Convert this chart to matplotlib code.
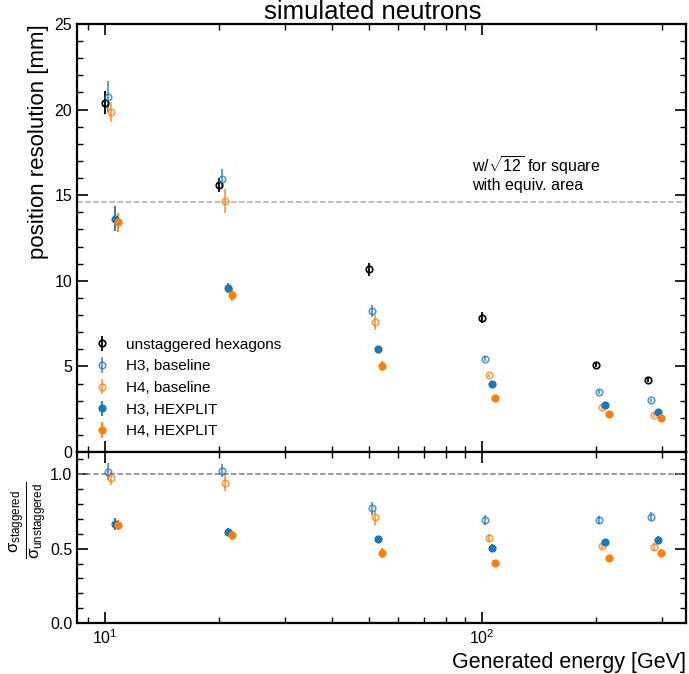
import numpy as np
import matplotlib
matplotlib.use("Agg")
import matplotlib.pyplot as plt
from matplotlib.ticker import MultipleLocator, LogLocator, NullFormatter

plt.rcParams["font.family"] = ["Liberation Sans", "DejaVu Sans"]
plt.rcParams["mathtext.fontset"] = "custom"
plt.rcParams["mathtext.rm"] = "Liberation Sans"
plt.rcParams["mathtext.it"] = "Liberation Sans:italic"
plt.rcParams["mathtext.bf"] = "Liberation Sans:bold"
plt.rcParams["mathtext.default"] = "regular"

# generated energies [GeV]
energies = np.array([10, 20, 50, 100, 200, 275])

# position resolution [mm] and errors
unstaggered = np.array([20.40, 15.58, 10.67, 7.85, 5.06, 4.22])
unstaggered_err = np.array([0.68, 0.42, 0.38, 0.30, 0.12, 0.12])
h3_baseline = np.array([20.75, 15.97, 8.24, 5.45, 3.50, 3.02])
h3_baseline_err = np.array([0.90, 0.56, 0.35, 0.15, 0.10, 0.10])
h4_baseline = np.array([19.86, 14.66, 7.57, 4.48, 2.63, 2.16])
h4_baseline_err = np.array([0.60, 0.71, 0.44, 0.10, 0.10, 0.10])
h3_hexplit = np.array([13.61, 9.58, 6.00, 3.97, 2.75, 2.36])
h3_hexplit_err = np.array([0.73, 0.30, 0.10, 0.10, 0.08, 0.08])
h4_hexplit = np.array([13.42, 9.19, 5.04, 3.17, 2.22, 2.00])
h4_hexplit_err = np.array([0.55, 0.37, 0.30, 0.08, 0.08, 0.08])

square_res = 14.6

series = [
    ("unstaggered hexagons", unstaggered, unstaggered_err, "k", "none", 1.0),
    ("H3, baseline", h3_baseline, h3_baseline_err, "tab:blue", "none", 0.75),
    ("H4, baseline", h4_baseline, h4_baseline_err, "tab:orange", "none", 0.75),
    ("H3, HEXPLIT", h3_hexplit, h3_hexplit_err, "tab:blue", "tab:blue", 1.0),
    ("H4, HEXPLIT", h4_hexplit, h4_hexplit_err, "tab:orange", "tab:orange", 1.0),
]

fig = plt.figure(figsize=(6.89, 6.74), dpi=100)
ax1 = fig.add_axes([0.1118, 0.3294, 0.8838, 0.635])
ax2 = fig.add_axes([0.1118, 0.0757, 0.8838, 0.2537], sharex=ax1)

for i, (label, y, yerr, color, mfc, alpha) in enumerate(series):
    x = energies * 1.02 ** i
    ax1.errorbar(x, y, yerr=yerr, fmt="o", color=color, mfc=mfc, mec=color,
                 ms=4.7, mew=1.2, elinewidth=1.3, capsize=0, alpha=alpha, label=label)
    if i > 0:
        ratio = y / unstaggered
        ratio_err = ratio * np.sqrt((yerr / y) ** 2 + (unstaggered_err / unstaggered) ** 2)
        ax2.errorbar(x, ratio, yerr=ratio_err, fmt="o", color=color, mfc=mfc, mec=color,
                     ms=4.7, mew=1.2, elinewidth=1.3, capsize=0, alpha=alpha)

ax1.axhline(square_res, color="#aaaaaa", ls="--", lw=1.1)
ax1.text(94, 15.1, "w/$\\sqrt{12}$ for square\nwith equiv. area", fontsize=11.5,
         ha="left", va="bottom", linespacing=1.1)
ax2.axhline(1.0, color="#808080", ls="--", lw=1.1)

ax1.set_xscale("log")
ax1.set_xlim(8.43, 347)
ax1.set_ylim(0, 25)
ax2.set_ylim(0, 1.15)

ax1.yaxis.set_major_locator(MultipleLocator(5))
ax1.yaxis.set_minor_locator(MultipleLocator(1))
ax2.yaxis.set_major_locator(MultipleLocator(0.5))
ax2.yaxis.set_minor_locator(MultipleLocator(0.1))
ax2.xaxis.set_minor_locator(LogLocator(subs=np.arange(2, 10)))
ax2.xaxis.set_minor_formatter(NullFormatter())
ax2.yaxis.set_major_formatter(matplotlib.ticker.FormatStrFormatter("%.1f"))

for ax in (ax1, ax2):
    ax.tick_params(which="both", direction="in", top=True, right=True, labelsize=11.5)
    ax.tick_params(which="major", length=8, width=1.2)
    ax.tick_params(which="minor", length=4, width=1.0)
    for sp in ax.spines.values():
        sp.set_linewidth(1.6)
ax1.tick_params(labelbottom=False)

ax1.set_title("simulated neutrons", fontsize=18.5, pad=1, x=0.485)
ax1.set_ylabel("position resolution [mm]", fontsize=16, loc="top")
ax2.set_xlabel("Generated energy [GeV]", fontsize=15.5, loc="right")
fig.text(0.042, 0.228, "$\\frac{\\sigma_{staggered}}{\\sigma_{unstaggered}}$",
         rotation=90, ha="center", va="center", fontsize=17)

ax1.legend(loc="lower left", frameon=False, fontsize=11, handlelength=1.5)

fig.savefig("out.png", dpi=100)
